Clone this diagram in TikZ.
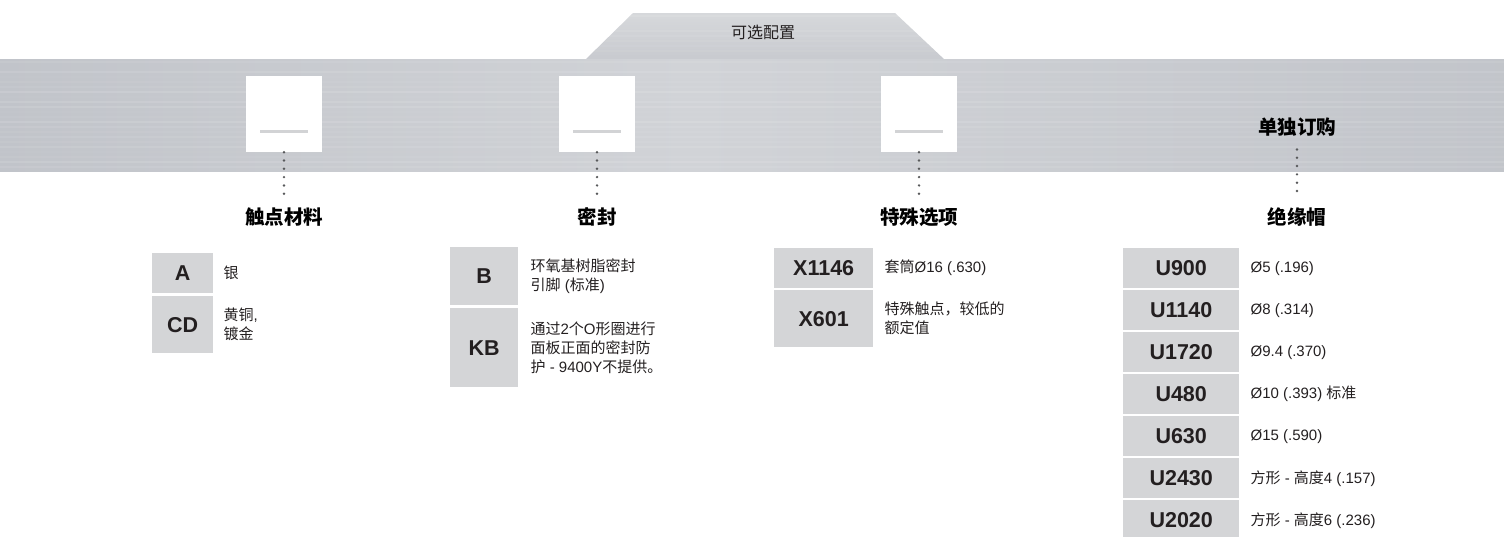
\documentclass[tikz,border=0pt]{standalone}
\usepackage{fontspec}
\setmainfont{Liberation Sans}
\newfontfamily\cjk{Noto Sans CJK SC}
\newcommand{\zh}[1]{{\cjk #1}}
\usetikzlibrary{calc}

\definecolor{ink}{HTML}{231F20}
\definecolor{cellgray}{HTML}{D4D5D7}
\definecolor{dotgray}{HTML}{58595B}
\definecolor{bargray}{HTML}{D2D3D5}
\definecolor{metalA}{HTML}{A3A7AF}
\definecolor{metalB}{HTML}{BFC2C8}
\definecolor{metalC}{HTML}{D1D3D7}
\definecolor{tabA}{HTML}{C8CACF}
\definecolor{tabB}{HTML}{D6D8DB}
\pgfdeclarehorizontalshading{metal}{100bp}{color(0bp)=(metalA); color(22bp)=(metalB); color(48bp)=(metalC); color(80bp)=(metalB); color(100bp)=(metalA)}

\tikzset{
  cell/.style={fill=cellgray, inner sep=0pt, anchor=north west, text=ink,
    font=\fontsize{21.5}{24}\selectfont\bfseries},
  desc/.style={anchor=west, align=left, inner sep=0pt, text=ink,
    font=\fontsize{15}{19}\selectfont},
  head/.style={inner sep=0pt, text=black, font=\fontsize{19.5}{22}\selectfont\cjk\bfseries},
  slot/.style={fill=white, minimum size=76, inner sep=0pt},
  slotbar/.style={draw=bargray, line width=3pt},
  dots/.style={draw=dotgray, line width=2.7pt, line cap=round, dash pattern=on 0pt off 8.3pt}
}

\begin{document}
\begin{tikzpicture}[x=1pt, y=-1pt]
  \useasboundingbox (0,0) rectangle (1504,536);

  % metal band with the tab on top
  \shade[top color=tabB, bottom color=tabA] (585,60) -- (633,13) -- (895,13) -- (945,60) -- cycle;
  \shade[shading=metal] (0,59) rectangle (1504,171);
  \pgfmathsetseed{7}
  \foreach \yy in {16,21,...,56}
    \draw[white, opacity={0.12*rnd}, line width=1.2pt] ({633-(\yy-13)*48/47},\yy) -- ({895+(\yy-13)*50/47},\yy);
  \foreach \yy in {62,67,...,168}
    \draw[white, opacity={0.12*rnd}, line width=1.4pt] (0,\yy) -- (1504,\yy);
  \node[text=ink, font=\fontsize{16}{18}\selectfont\cjk] (opt) at (763,32) {可选配置};

  % option slots
  \node[slot] (s1) at (284,114) {};
  \node[slot] (s2) at (597,114) {};
  \node[slot] (s3) at (919,114) {};
  \foreach \s in {s1,s2,s3}
    \draw[slotbar] ([xshift=-24pt,yshift=21pt]\s.south) -- ([xshift=24pt,yshift=21pt]\s.south);
  \node[head] (order) at (1297,127) {单独订购};

  % headings
  \node[head] (h1) at (284,217) {触点材料};
  \node[head] (h2) at (597,217) {密封};
  \node[head] (h3) at (919,217) {特殊选项};
  \node[head] (h4) at (1297,217) {绝缘帽};

  \draw[dots, shorten >=9pt] (s1.south) -- (h1.north);
  \draw[dots, shorten >=9pt] (s2.south) -- (h2.north);
  \draw[dots, shorten >=9pt] (s3.south) -- (h3.north);
  \draw[dots, shorten <=13pt, shorten >=9pt] (order.south) -- (h4.north);

  % contact material
  \node[cell, minimum width=61, minimum height=40] (ca) at (152,253) {A};
  \node[cell, minimum width=61, minimum height=57] (ccd) at (152,296) {CD};
  \node[desc] (da) at ([xshift=10pt]ca.east) {\zh{银}};
  \node[desc] (dcd) at ([xshift=10pt]ccd.east) {\zh{黄铜},\\\zh{镀金}};

  % seal
  \node[cell, minimum width=68, minimum height=58] (cb) at (450,247) {B};
  \node[cell, minimum width=68, minimum height=79] (ckb) at (450,308) {KB};
  \node[desc] (db) at ([xshift=12pt]cb.east) {\zh{环氧基树脂密封}\\\zh{引脚} (\zh{标准})};
  \node[desc] (dkb) at ([xshift=12pt]ckb.east) {\zh{通过}2\zh{个}O\zh{形圈进行}\\\zh{面板正面的密封防}\\\zh{护} - 9400Y\zh{不提供。}};

  % special options
  \node[cell, minimum width=99, minimum height=40] (cx1) at (774,248) {X1146};
  \node[cell, minimum width=99, minimum height=57] (cx2) at (774,290) {X601};
  \node[desc] (dx1) at ([xshift=11pt]cx1.east) {\zh{套筒}Ø16 (.630)};
  \node[desc] (dx2) at ([xshift=11pt]cx2.east) {\zh{特殊触点，较低的}\\\zh{额定值}};

  % caps
  \foreach \code/\txt [count=\i from 0] in {U900/{Ø5 (.196)}, U1140/{Ø8 (.314)},
      U1720/{Ø9.4 (.370)}, U480/{Ø10 (.393) \zh{标准}}, U630/{Ø15 (.590)},
      U2430/{\zh{方形} - \zh{高度}4 (.157)}, U2020/{\zh{方形} - \zh{高度}6 (.236)}} {
    \node[cell, minimum width=116, minimum height=40] (u\i) at (1123,{248+42*\i}) {\code};
    \node[desc] (du\i) at ([xshift=11pt]u\i.east) {\txt};
  }
\end{tikzpicture}
\end{document}
